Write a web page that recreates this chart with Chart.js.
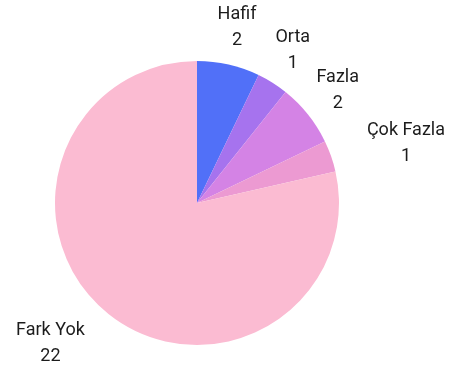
<!DOCTYPE html>
<html>
<head>
<meta charset="utf-8">
<script src="https://cdn.jsdelivr.net/npm/chart.js@4.4.0/dist/chart.umd.min.js"></script>
<style>
    html, body { margin: 0; padding: 0; background: #ffffff; }
    #wrap { width: 451px; height: 372px; }
</style>
</head>
<body>
<div id="wrap"><canvas id="graficoPizza" width="451" height="372"></canvas></div>
<script>
const categorias = ["Hafif", "Orta", "Fazla", "Çok Fazla", "Fark Yok"];
const valores = [2, 1, 2, 1, 22];
const cores = ["#5170F8", "#A673EE", "#D483E5", "#EC9AD2", "#FBBBD2"];

// desenha nome + valor fora de cada fatia
const rotulosFora = {
    id: "rotulosFora",
    afterDatasetsDraw(chart) {
        const ctx = chart.ctx;
        const meta = chart.getDatasetMeta(0);
        ctx.save();
        ctx.font = "18px Roboto, 'Noto Sans', sans-serif";
        ctx.fillStyle = "#1c1c1c";
        ctx.textBaseline = "middle";
        meta.data.forEach((arc, i) => {
            const meio = (arc.startAngle + arc.endAngle) / 2;
            const r = arc.outerRadius + 38;
            const x = arc.x + Math.cos(meio) * r;
            const y = arc.y + Math.sin(meio) * r;
            let graus = (meio * 180 / Math.PI + 90) % 360;
            if (graus < 0) graus += 360;
            let alinhar = "center";
            if (graus >= 60 && graus < 180) alinhar = "left";
            else if (graus >= 180 && graus < 300) alinhar = "right";
            ctx.textAlign = alinhar;
            ctx.fillText(categorias[i], x, y - 13);
            // valor centralizado sob o nome
            const larg = ctx.measureText(categorias[i]).width;
            let xc = x;
            if (alinhar === "left") xc = x + larg / 2;
            if (alinhar === "right") xc = x - larg / 2;
            ctx.textAlign = "center";
            ctx.fillText(String(valores[i]), xc, y + 13);
        });
        ctx.restore();
    }
};

const ctx = document.getElementById("graficoPizza").getContext("2d");
new Chart(ctx, {
    type: "pie",
    data: {
        labels: categorias,
        datasets: [{
            data: valores,
            backgroundColor: cores,
            borderWidth: 0
        }]
    },
    options: {
        responsive: false,
        animation: false,
        layout: {
            padding: { top: 61, bottom: 27, left: 55, right: 112 }
        },
        plugins: {
            legend: { display: false },
            tooltip: { enabled: false }
        }
    },
    plugins: [rotulosFora]
});
</script>
</body>
</html>
